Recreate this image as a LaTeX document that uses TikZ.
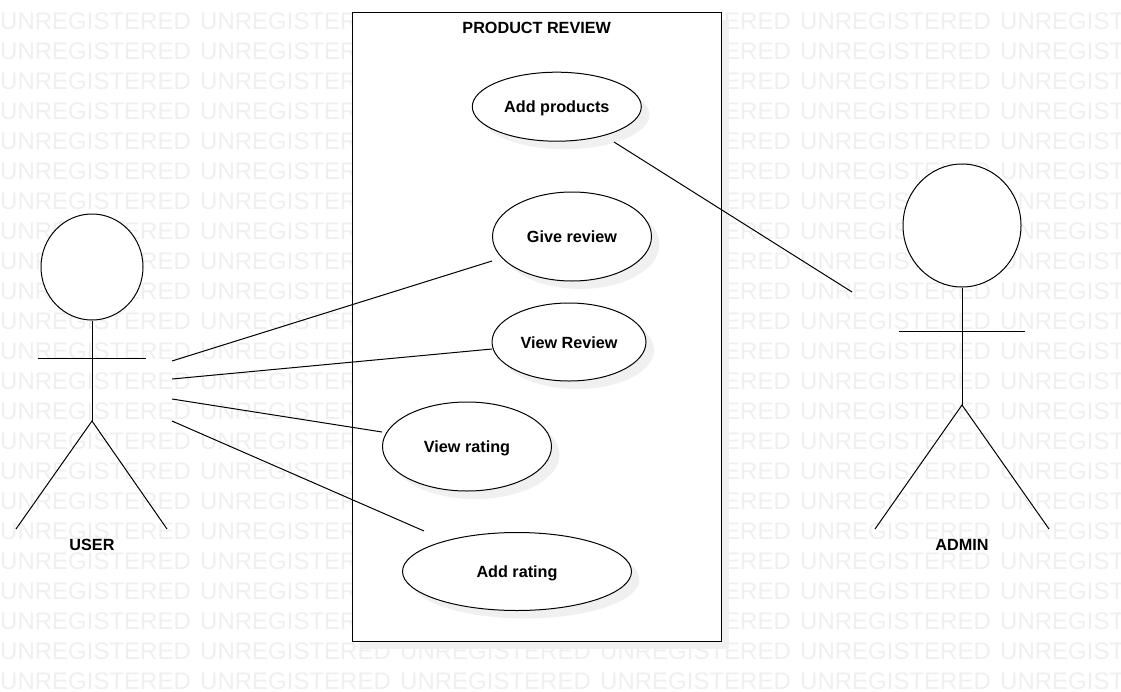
\documentclass[tikz,border=0pt]{standalone}
\usepackage{fontspec}
\setmainfont{Liberation Sans}
\usetikzlibrary{shapes.geometric,shadows}
\definecolor{markgray}{HTML}{EFEFEF}
\definecolor{shadegray}{HTML}{F0F0F0}
\tikzset{
    watermark/.style={anchor=west, inner sep=0pt, text=markgray, font=\fontsize{24}{24}\selectfont},
    label/.style={font=\fontsize{16.2}{18}\selectfont\bfseries, inner sep=0pt},
    usecase/.style={ellipse, draw, fill=white, line width=1pt, inner sep=0pt, text height=14pt, text depth=2pt, font=\fontsize{16.2}{18}\selectfont\bfseries,
        drop shadow={shadow xshift=8pt, shadow yshift=-8pt, fill=shadegray, opacity=1}},
    head/.style={ellipse, draw, fill=white, line width=1pt, inner sep=0pt},
    line/.style={line width=1pt}
}
\begin{document}
\begin{tikzpicture}[x=1pt, y=-1pt]
            \useasboundingbox (0,0) rectangle (1121,691);

            % background text
            \foreach \row in {21,51,...,681}
                \foreach \col in {0,200,...,1000}
                    \node[watermark] (mark\col x\row) at (\col,\row) {UNREGISTERED};

            % system box
            \node[draw, fill=white, line width=1pt, inner sep=0pt, minimum width=369pt, minimum height=629pt,
                drop shadow={shadow xshift=8pt, shadow yshift=-8pt, fill=shadegray, opacity=1}] (system) at (536.7,326.7) {};
            \node[label] (systitle) at (536.7,27.5) {PRODUCT REVIEW};

            % use cases
            \node[usecase, minimum width=169pt, minimum height=69pt] (addproducts) at (556.8,106.7) {Add products};
            \node[usecase, minimum width=159pt, minimum height=89pt] (givereview) at (572,236.5) {Give review};
            \node[usecase, minimum width=154pt, minimum height=78pt] (viewreview) at (569,342) {View Review};
            \node[usecase, minimum width=169pt, minimum height=89pt] (viewrating) at (467,446.5) {View rating};
            \node[usecase, minimum width=229pt, minimum height=78pt] (addrating) at (517,571.5) {Add rating};

            % user
            \node[head, minimum width=102pt, minimum height=106pt] (userhead) at (92,267) {};
            \coordinate (userhip) at (92,421);
            \coordinate (userarml) at (38,358.5);
            \coordinate (userarmr) at (146,358.5);
            \coordinate (userlegl) at (16,529);
            \coordinate (userlegr) at (167,529);
            \draw[line] (userhead.south) -- (userhip);
            \draw[line] (userarml) -- (userarmr);
            \draw[line] (userlegl) -- (userhip) -- (userlegr);
            \node[label] (userlabel) at (92,544.5) {USER};

            % admin
            \node[head, minimum width=118pt, minimum height=123pt] (adminhead) at (962,225.5) {};
            \coordinate (adminhip) at (962,405);
            \coordinate (adminarml) at (899,331.5);
            \coordinate (adminarmr) at (1025,331.5);
            \coordinate (adminlegl) at (875,529);
            \coordinate (adminlegr) at (1049,529);
            \draw[line] (adminhead.south) -- (adminhip);
            \draw[line] (adminarml) -- (adminarmr);
            \draw[line] (adminlegl) -- (adminhip) -- (adminlegr);
            \node[label] (adminlabel) at (962,544.5) {ADMIN};

            % connectors, free ends stop short of the shapes
            \coordinate (usera) at (172,361);
            \coordinate (userb) at (172,379);
            \coordinate (userc) at (172,399);
            \coordinate (userd) at (172,421);
            \coordinate (givein) at (492,261);
            \coordinate (viewin) at (492,349);
            \coordinate (ratein) at (382,432);
            \coordinate (addin) at (424,531);
            \coordinate (prodout) at (614,142);
            \coordinate (adminin) at (852,292);
            \draw[line] (usera) -- (givein);
            \draw[line] (userb) -- (viewin);
            \draw[line] (userc) -- (ratein);
            \draw[line] (userd) -- (addin);
            \draw[line] (prodout) -- (adminin);
\end{tikzpicture}
\end{document}
